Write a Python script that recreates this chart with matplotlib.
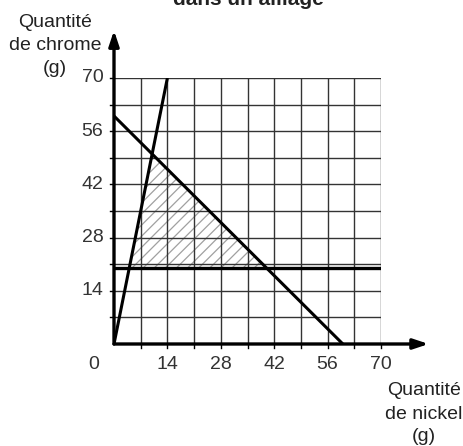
import matplotlib
matplotlib.use("Agg")
import matplotlib.pyplot as plt
from matplotlib.patches import Polygon

plt.rcParams['font.family'] = ['Liberation Sans', 'DejaVu Sans']
plt.rcParams['hatch.color'] = '#a0a0a0'
plt.rcParams['hatch.linewidth'] = 0.9

# Axis range and grid (grams)
step = 7
axis_max = 70
tick_labels = [14, 28, 42, 56, 70]

# Constraint lines: chrome = 5 * nickel, nickel + chrome = 60, chrome = 20
ratio_line_x = [0, 14]
ratio_line_y = [0, 70]
total_line_x = [0, 60]
total_line_y = [60, 0]
min_chrome = 20

# Feasible region vertices
region_x = [4, 10, 40]
region_y = [20, 50, 20]

# Axis titles, one line each
y_title_lines = ['Quantité', 'de chrome', '(g)']
x_title_lines = ['Quantité', 'de nickel', '(g)']

W, H = 464, 446
fig = plt.figure(figsize=(W / 100, H / 100), dpi=100)
ax = fig.add_axes([114 / W, 1 - 344 / H, 267 / W, 266 / H])
ax.set_xlim(0, axis_max)
ax.set_ylim(0, axis_max)
ax.axis('off')

# Shaded feasible region
ax.add_patch(Polygon(list(zip(region_x, region_y)), closed=True,
                     facecolor='none', edgecolor='#a0a0a0', lw=0,
                     hatch='///', zorder=1))

# Grid
for v in range(step, axis_max + 1, step):
    ax.plot([v, v], [0, axis_max], color='#333333', lw=1.0, zorder=2)
    ax.plot([0, axis_max], [v, v], color='#333333', lw=1.0, zorder=2)

# Small outer tick marks
for v in range(step, axis_max + 1, step):
    ax.plot([v, v], [0, -1.1], color='black', lw=1.0, clip_on=False, zorder=3)
    ax.plot([0, -1.1], [v, v], color='black', lw=1.0, clip_on=False, zorder=3)

# Axes with arrows
for tip in [(82.5, 0), (0, 82.5)]:
    ax.annotate('', xy=tip, xytext=(0, 0),
                arrowprops=dict(arrowstyle='-|>,head_length=0.9,head_width=0.3',
                                color='black', lw=2.4, shrinkA=0, shrinkB=0),
                annotation_clip=False, zorder=5)

# Constraint lines
ax.plot(ratio_line_x, ratio_line_y, color='black', lw=2.2, zorder=4,
        solid_capstyle='butt')
ax.plot(total_line_x, total_line_y, color='black', lw=2.2, zorder=4,
        solid_capstyle='butt')
ax.plot([0, axis_max], [min_chrome, min_chrome], color='black', lw=2.4,
        zorder=4, solid_capstyle='butt')

# Tick labels
fs = 14
for t in tick_labels:
    ax.text(t, -3.2, str(t), ha='center', va='top', fontsize=fs,
            color='#333333')
    ax.text(-2.8, t, str(t), ha='right', va='center', fontsize=fs,
            color='#333333')
ax.text(-5.3, -3.2, '0', ha='center', va='top', fontsize=fs, color='#333333')

# Axis titles
for line, base in zip(y_title_lines, [27, 50, 73]):
    fig.text(55 / W, 1 - base / H, line, ha='center', va='baseline',
             fontsize=fs, color='#222222')
for line, base in zip(x_title_lines, [395, 419, 441]):
    fig.text(424 / W, 1 - base / H, line, ha='center', va='baseline',
             fontsize=fs, color='#222222')

# Title
fig.text(248 / W, 1 - 5 / H, 'dans un alliage', ha='center',
         va='baseline', fontsize=15, fontweight='bold', color='#222222')

fig.savefig('out.png', dpi=100)
